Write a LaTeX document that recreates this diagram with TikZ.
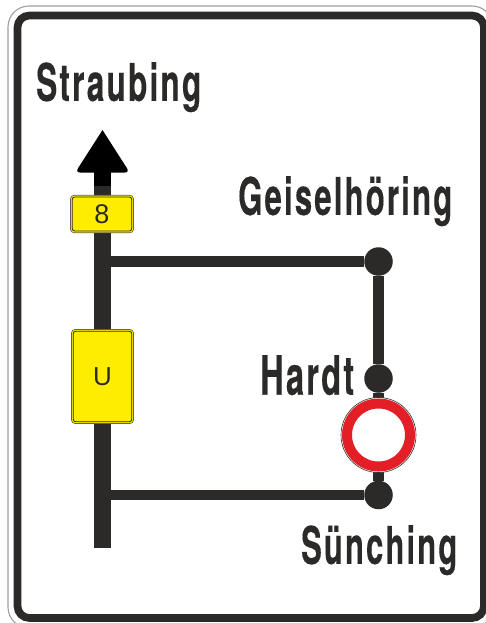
\documentclass[tikz,border=0pt]{standalone}
\usepackage{fontspec}
\usepackage{graphicx}
\setmainfont{TeX Gyre Heros}[LetterSpace=7,BoldFeatures={FakeBold=0.35}]
\newfontfamily\platefont{Liberation Sans}
\definecolor{signdark}{HTML}{2B2A29}
\definecolor{signyellow}{HTML}{FFED00}
\definecolor{signred}{HTML}{E31E26}
\tikzset{
  route/.style={draw=signdark,line width=10.3pt},
  mainroute/.style={draw=signdark,line width=17pt},
  junction/.style={circle,fill=signdark,minimum size=28.5pt,inner sep=0pt},
  place/.style={inner sep=0pt,text=signdark},
  plate/.style={draw=signdark!75,line width=0.7pt,fill=signyellow,rounded corners=3.5pt,inner sep=0pt,text=signdark},
  plateinner/.style={draw=signdark,line width=0.8pt,rounded corners=2.5pt,inner sep=0pt},
}
\begin{document}
\begin{tikzpicture}[x=1pt,y=-1pt]
\useasboundingbox (0,0) rectangle (486,623);
\fill[white] (0,0) rectangle (486,623);
% sign edges
\draw[gray!75,line width=1.1pt,rounded corners=21pt] (8,6) rectangle (493,628);
\draw[signdark,line width=7.7pt,rounded corners=12pt] (17.5,15.5) rectangle (484,618);
% anchors
\coordinate (top) at (102.5,172);
\coordinate (bottom) at (102.5,548);
\coordinate (mid1) at (102.5,261.5);
\coordinate (mid2) at (102.5,495);
\node[junction] (g) at (378.5,261.5) {};
\node[junction] (h) at (378.5,378.5) {};
\node[junction] (s) at (378.5,495) {};
% connectors
\draw[mainroute] (top) -- (bottom);
\draw[route] (mid1) -- (g);
\draw[route] (g) -- (h);
\draw[route] (h) -- (s);
\draw[route] (mid2) -- (s);
% arrow head
\fill[black] (102.5,130) -- (126.5,167.5) .. controls (128.5,170.5) and (128,172.5) .. (125,172.5) -- (80,172.5) .. controls (77,172.5) and (76.5,170.5) .. (78.5,167.5) -- cycle;
\fill[black] (94,171) rectangle (111,186);
% no-entry ring
\node[circle,draw=signdark,line width=0.6pt,fill=white,minimum size=75pt,inner sep=0pt] (ring) at (378.5,435) {};
\node[circle,draw=signred,line width=10pt,fill=white,minimum size=63pt,inner sep=0pt] at (ring.center) {};
% plates
\node[plate,minimum width=63pt,minimum height=37.5pt] (p8) at (102,214) {};
\node[plateinner,minimum width=59.5pt,minimum height=34pt] at (p8.center) {};
\node[inner sep=0pt,text=signdark] at (p8.center) {\platefont\fontsize{27}{27}\selectfont 8};
\node[plate,minimum width=62pt,minimum height=94pt] (pU) at (102.5,376.5) {};
\node[plateinner,minimum width=58.5pt,minimum height=90.5pt] at (pU.center) {};
\node[inner sep=0pt,text=signdark] at (pU.center) {\platefont\fontsize{26}{26}\selectfont U};
% labels
\node[place,anchor=north west] (straubing) at (36,62) {\resizebox*{165pt}{50pt}{\bfseries Straubing}};
\node[place,anchor=north west] (geisel) at (238,176) {\resizebox*{214pt}{50pt}{\bfseries Geiselhöring}};
\node[place,anchor=north west] (hardt) at (260,355) {\resizebox*{94pt}{40pt}{\bfseries Hardt}};
\node[place,anchor=north west] (suenching) at (301,525) {\resizebox*{156pt}{50pt}{\bfseries Sünching}};
\end{tikzpicture}
\end{document}
